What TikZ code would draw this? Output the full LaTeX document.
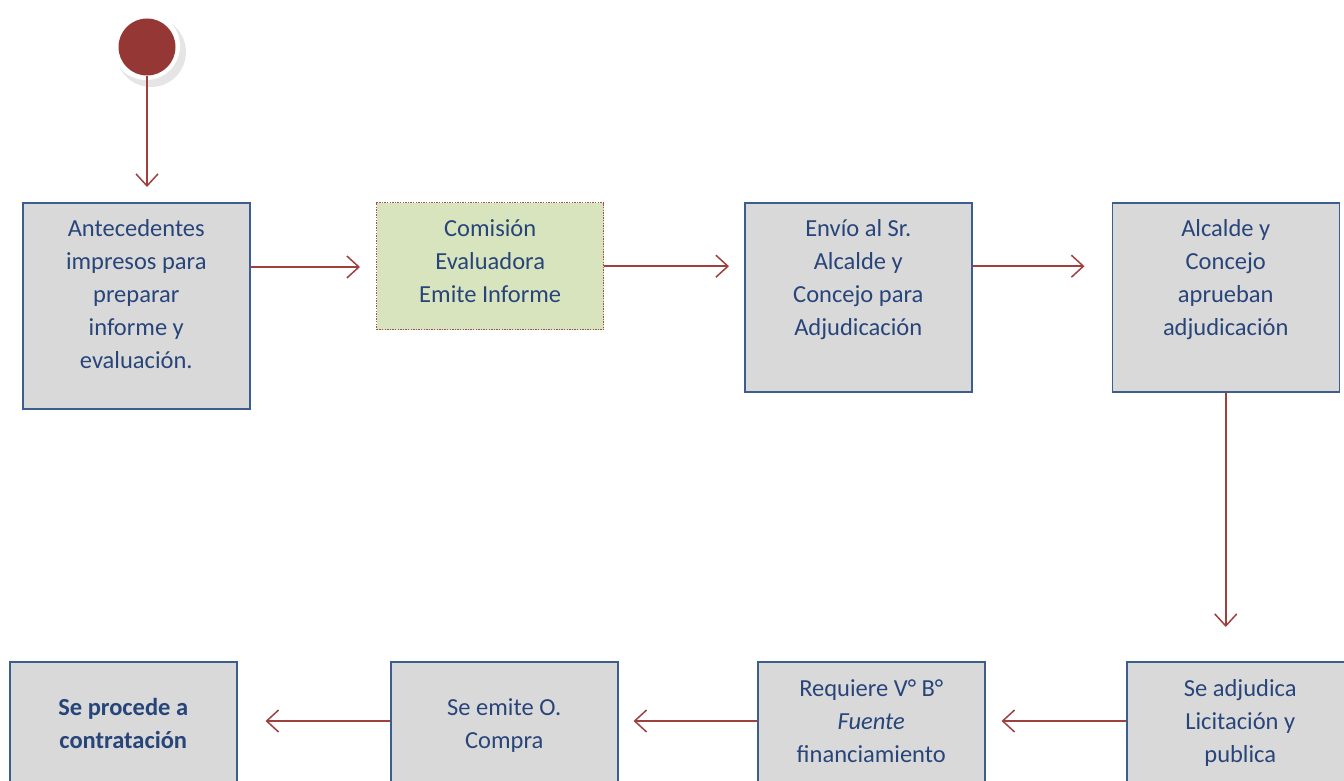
\documentclass[tikz,border=0pt]{standalone}
\usepackage{fontspec}
\setmainfont{Carlito}
\usetikzlibrary{arrows.meta}
\definecolor{boxfill}{HTML}{D9D9D9}
\definecolor{boxline}{HTML}{3B5E8C}
\definecolor{txtblue}{HTML}{28457A}
\definecolor{greenfill}{HTML}{D7E4BD}
\definecolor{greenline}{HTML}{A5504C}
\definecolor{flowred}{HTML}{A0403D}
\definecolor{dotred}{HTML}{953735}
\tikzset{
  stepbox/.style={draw=boxline, line width=1.5pt, fill=boxfill, rectangle,
    minimum width=227pt, anchor=north west, inner sep=0pt},
  greenbox/.style={stepbox, draw=greenline, fill=greenfill,
    dash pattern=on 1.4pt off 1.2pt, line width=1.4pt},
  boxtext/.style={anchor=north, inner sep=0pt, align=center, text=txtblue,
    font=\fontsize{24.5}{33}\selectfont, execute at begin node=\strut},
  flow/.style={draw=flowred, line width=1.5pt, -{Straight Barb[length=12pt,width=22pt,line width=1.5pt]}},
}
\begin{document}
\begin{tikzpicture}[x=1pt,y=-1pt]
\useasboundingbox (0,0) rectangle (1344,781);
\clip (0,0) rectangle (1344,781);

% start marker: white ring with soft shadow
\fill[black!18] (150,51) circle (34);
\fill[black!10] (151,52) circle (35);
\fill[white] (146,46) circle (34);
\node[circle, fill=dotred, minimum size=57pt, inner sep=0pt] (start) at (147,47) {};

% top row
\node[stepbox, minimum height=206pt] (b1) at (22,202) {};
\node[greenbox, minimum height=127pt] (b2) at (376,202) {};
\node[stepbox, minimum height=189pt] (b3) at (744,202) {};
\node[stepbox, minimum height=189pt] (b4) at (1111.5,202) {};

% bottom row
\node[stepbox, minimum height=189pt] (b8) at (9,661) {};
\node[stepbox, minimum height=189pt] (b7) at (390,661) {};
\node[stepbox, minimum height=189pt] (b6) at (757,661) {};
\node[stepbox, minimum height=189pt] (b5) at (1126,661) {};

% labels
\node[boxtext] (t1) at ([yshift=-17pt]b1.north) {Antecedentes\\impresos para\\preparar\\informe y\\evaluación.};
\node[boxtext] (t2) at ([yshift=-17pt]b2.north) {Comisión\\Evaluadora\\Emite Informe};
\node[boxtext] (t3) at ([yshift=-17pt]b3.north) {Envío al Sr.\\Alcalde y\\Concejo para\\Adjudicación};
\node[boxtext] (t4) at ([yshift=-17pt]b4.north) {Alcalde y\\Concejo\\aprueban\\adjudicación};
\node[boxtext] (t5) at ([yshift=-18pt]b5.north) {Se adjudica\\Licitación y\\publica};
\node[boxtext] (t6) at ([yshift=-18pt]b6.north) {Requiere V° B°\\\textit{Fuente}\\financiamiento};
\node[boxtext] (t7) at ([yshift=-37pt]b7.north) {Se emite O.\\Compra};
\node[boxtext] (t8) at ([yshift=-37pt]b8.north) {\textbf{Se procede a}\\\textbf{contratación}};

% connectors
\draw[flow, shorten >=15pt] (start.south) -- (start.south |- b1.north);
\draw[flow, shorten >=16pt] (b1.east |- b1.north east) ++(0,65) coordinate (a1) -- (a1 -| b2.west);
\draw[flow, shorten >=15pt] (b2.east) -- (b2.east -| b3.west);
\draw[flow, shorten >=27pt] (b3.east |- b2.east) -- (b2.east -| b4.west);
\draw[flow, shorten >=34pt] (b4.south) -- (b4.south |- b5.north);
\draw[flow, shorten >=16pt] (b5.west |- 0,721) coordinate (a5) -- (a5 -| b6.east);
\draw[flow, shorten >=15pt] (b6.west |- a5) -- (a5 -| b7.east);
\draw[flow, shorten >=28pt] (b7.west |- a5) -- (a5 -| b8.east);
\end{tikzpicture}
\end{document}
